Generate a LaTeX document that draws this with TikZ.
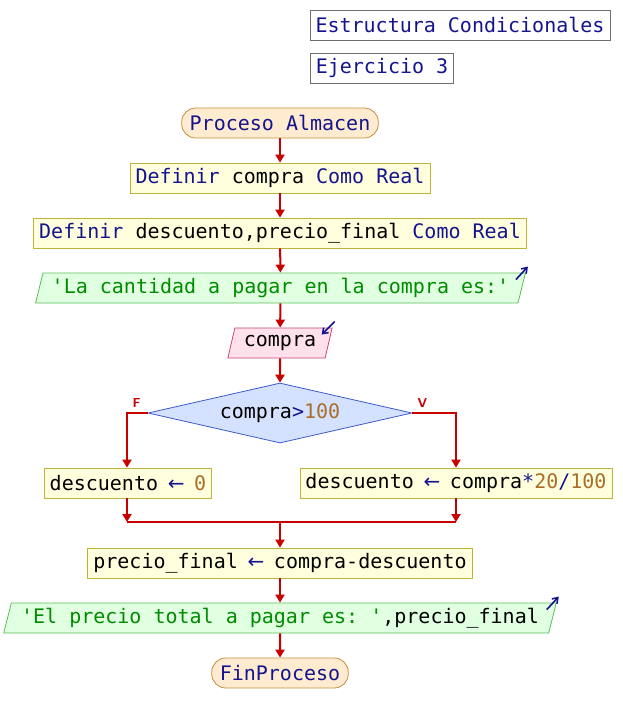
\documentclass[tikz,border=0pt]{standalone}
\usepackage{fontspec}
\setmonofont{DejaVu Sans Mono}
\newfontfamily\arrowfont{DejaVu Sans}
\usepackage{tikz}
\usetikzlibrary{shapes.geometric, positioning, calc, arrows.meta}
\usepackage{xcolor}
\definecolor{kwblue}{RGB}{20,20,140}
\definecolor{numbrown}{RGB}{170,110,40}
\definecolor{strgreen}{RGB}{0,140,0}
\definecolor{termfill}{RGB}{255,236,208}
\definecolor{termline}{RGB}{200,140,60}
\definecolor{asgfill}{RGB}{255,255,222}
\definecolor{asgline}{RGB}{190,180,60}
\definecolor{outfill}{RGB}{225,255,225}
\definecolor{outline}{RGB}{90,190,90}
\definecolor{infill}{RGB}{255,225,236}
\definecolor{inline}{RGB}{200,70,120}
\definecolor{decfill}{RGB}{212,226,255}
\definecolor{decline}{RGB}{60,90,200}
\definecolor{flowred}{RGB}{200,0,0}
\definecolor{titleline}{RGB}{110,110,110}

\tikzset{
  every node/.style = {font=\ttfamily\fontsize{20}{24}\selectfont},
  titlebox/.style = {draw=titleline, line width=0.8, minimum height=30, inner xsep=5.5, text=kwblue},
  terminal/.style = {draw=termline, fill=termfill, line width=0.8, rounded corners=14,
                     minimum height=30, inner xsep=8, text=kwblue},
  assign/.style   = {draw=asgline, fill=asgfill, line width=0.8, minimum height=30, inner xsep=5.5},
  outbox/.style   = {trapezium, trapezium left angle=70, trapezium right angle=110,
                     trapezium stretches=true, draw=outline, fill=outfill, line width=0.8,
                     minimum height=30, inner sep=0},
  inbox/.style    = {outbox, draw=inline, fill=infill},
  decision/.style = {diamond, aspect=4.4, draw=decline, fill=decfill, line width=0.8,
                     minimum width=264, minimum height=60, inner sep=0},
  flow/.style     = {draw=flowred, line width=2, -{Triangle[width=9,length=8]}},
  flowline/.style = {draw=flowred, line width=2},
  ioarrow/.style  = {draw=kwblue, line width=1.6, -{Straight Barb[width=7,length=5]}},
  branch/.style   = {text=flowred, font=\sffamily\bfseries\fontsize{13}{14}\selectfont}
}
\newcommand{\kw}[1]{\textcolor{kwblue}{#1}}
\newcommand{\num}[1]{\textcolor{numbrown}{#1}}
\newcommand{\str}[1]{\textcolor{strgreen}{#1}}
\newcommand{\asig}{\makebox[12.04pt][c]{\arrowfont\textcolor{kwblue}{←}}}

\begin{document}
\begin{tikzpicture}[x=1pt, y=-1pt]
  \useasboundingbox (0,0) rectangle (622,723);

  \node[titlebox] (titulo) at (460,25) {Estructura Condicionales};
  \node[titlebox] (ejer)   at (382,68) {Ejercicio 3};

  \node[terminal] (inicio) at (280,123) {Proceso Almacen};
  \node[assign]   (def1)   at (280,178) {\kw{Definir} compra \kw{Como Real}};
  \node[assign]   (def2)   at (280,233) {\kw{Definir} descuento,precio\_final \kw{Como Real}};
  \node[outbox, minimum width=493] (out1) at (280.5,288)
       {\str{'La cantidad a pagar en la compra es:'}};
  \node[inbox, minimum width=105]  (in1)  at (280,343) {compra};
  \node[decision] (cond) at (280,413) {compra\kw{>}\num{100}};

  \node[assign] (sino) at (128,483) {descuento \asig{} \num{0}};
  \node[assign] (si)   at (456,483) {descuento \asig{} compra\kw{*}\num{20}\kw{/}\num{100}};

  \coordinate (jl) at (127,522);
  \coordinate (jm) at (280,522);
  \coordinate (jr) at (456,522);

  \node[assign] (calc) at (280,563) {precio\_final \asig{} compra-descuento};
  \node[outbox, minimum width=553] (out2) at (280,618)
       {\str{'El precio total a pagar es: '},precio\_final};
  \node[terminal] (fin) at (280,673) {FinProceso};

  % flujo principal
  \draw[flow] (inicio) -- (def1);
  \draw[flow] (def1) -- (def2);
  \draw[flow] (def2) -- (out1);
  \draw[flow] (out1) -- (in1);
  \draw[flow] (in1) -- (cond);

  % ramas
  \draw[flow] (cond.west) -| (jl |- sino.north);
  \draw[flow] (cond.east) -| (si.north);
  \node[branch] at ([xshift=-11,yshift=10]cond.west) {F};
  \node[branch] at ([xshift=10,yshift=10]cond.east) {V};
  \draw[flow] (jl |- sino.south) -- (jl);
  \draw[flow] (si.south) -- (jr);
  \draw[flowline] (jl) -- (jr);
  \draw[flow] (jm) -- (calc);

  \draw[flow] (calc) -- (out2);
  \draw[flow] (out2) -- (fin);

  % marcas de entrada/salida
  \draw[ioarrow] ($(out1.top right corner)+(-10,7)$) -- ++(12,-13);
  \draw[ioarrow] ($(in1.top right corner)+(2,-6)$) -- ++(-13,13);
  \draw[ioarrow] ($(out2.top right corner)+(-10,7)$) -- ++(12,-13);
\end{tikzpicture}
\end{document}
